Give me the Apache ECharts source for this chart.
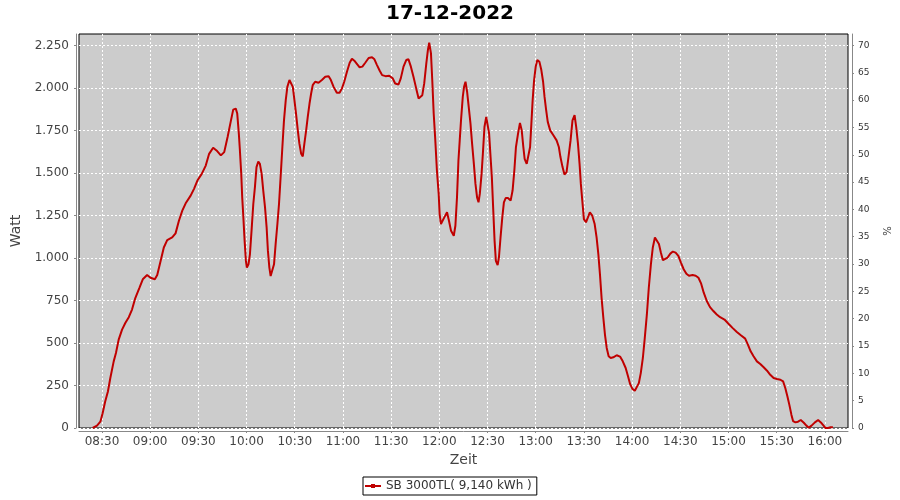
<!DOCTYPE html>
<html>
<head>
<meta charset="utf-8">
<script src="https://cdn.jsdelivr.net/npm/echarts@6/dist/echarts.min.js"></script>
<style>
html,body{margin:0;padding:0;background:#fff;}
#chart{width:900px;height:500px;}
</style>
</head>
<body>
<div id="chart"></div>
<script>
// Chart title and texts
const chartTitle = '17-12-2022';
const seriesName = 'SB 3000TL( 9,140 kWh )';

// time of each sample in minutes since midnight
const timeMin = [
504.2,506.9,509.0,510.4,512.0,513.7,515.2,517.3,518.7,520.4,522.5,524.6,526.7,528.7,530.8,533.3,535.4,538.1,540.2,542.9,
544.4,546.5,548.5,550.6,553.7,555.8,557.9,560.0,562.1,565.2,567.3,569.4,572.1,574.6,576.7,579.2,581.3,584.0,586.1,588.2,
590.3,591.7,593.3,594.2,595.2,595.8,596.7,597.3,597.9,598.8,599.6,600.2,601.2,602.1,603.1,604.2,605.2,606.2,607.3,608.3,
609.4,610.4,611.5,612.5,613.3,614.2,615.0,616.0,617.1,618.1,619.2,620.2,621.2,622.3,623.3,624.4,625.4,626.7,627.7,628.8,
629.8,630.8,631.9,632.9,634.0,635.0,636.0,637.1,638.1,639.2,640.2,641.2,642.7,644.8,646.9,649.0,651.1,652.5,654.2,656.2,
657.9,659.4,660.8,662.5,664.2,665.6,667.1,668.8,670.4,672.1,673.9,676.0,678.1,679.6,681.2,682.9,684.4,686.5,688.8,691.0,
692.5,694.6,696.0,697.7,699.4,700.8,702.3,703.9,705.6,707.1,708.1,709.4,710.6,711.9,712.9,713.7,714.8,715.6,716.5,717.5,
718.5,719.6,720.2,721.0,721.9,723.1,724.8,726.0,727.3,729.0,730.0,731.0,731.9,732.7,733.5,734.6,735.4,736.3,737.3,738.3,
739.4,740.4,741.5,742.5,743.5,744.4,745.2,746.3,747.1,748.1,749.2,750.2,751.0,751.9,752.7,753.5,754.4,755.2,756.3,757.1,
758.1,759.2,760.2,761.3,762.7,764.4,765.6,766.7,767.7,769.0,770.2,771.3,772.3,773.1,774.4,775.6,776.5,777.3,778.1,779.0,
780.0,781.0,782.3,783.5,784.6,785.5,786.5,787.5,789.0,791.0,793.0,794.4,795.4,796.7,797.9,799.2,800.4,801.7,802.9,804.2,
805.2,806.3,807.3,808.1,809.0,810.0,811.3,812.5,813.7,815.2,816.7,817.9,819.0,820.0,821.0,822.1,823.1,824.2,825.4,826.7,
828.3,830.4,832.5,834.2,836.0,837.5,838.8,840.2,841.7,842.9,844.2,845.4,846.7,847.9,849.2,850.4,851.7,852.9,854.2,855.4,
856.7,857.9,859.2,860.4,862.1,863.8,865.4,867.1,868.8,870.4,872.1,873.8,875.4,877.7,879.6,881.3,883.0,884.6,886.5,888.5,
890.6,892.7,894.8,897.5,900.0,902.5,905.2,907.9,910.4,912.1,913.8,915.6,917.7,919.8,921.9,924.0,926.0,928.1,930.2,932.3,
934.0,935.4,936.7,937.9,939.2,940.2,941.7,943.3,945.0,946.9,948.5,950.0,951.7,953.8,955.8,957.5,959.2,960.4,962.0,963.5,
965.0
];

// power output in Watt
const watt = [
0,14,37,87,156,215,294,392,441,520,579,619,652,697,766,825,875,900,884,875,
900,983,1062,1105,1121,1145,1219,1279,1322,1367,1407,1456,1495,1544,1613,1649,1633,1604,1623,1712,
1810,1873,1879,1850,1732,1643,1495,1357,1259,1101,983,944,963,1022,1160,1318,1416,1535,1568,1554,
1495,1397,1298,1180,1042,944,894,894,963,1082,1200,1318,1475,1653,1810,1929,2007,2047,2047,2007,
1929,1850,1751,1673,1613,1598,1673,1751,1830,1909,1968,2017,2037,2031,2047,2066,2070,2047,2007,1972,
1972,1998,2037,2096,2149,2173,2161,2141,2122,2126,2149,2177,2181,2169,2135,2102,2076,2070,2072,2057,
2027,2021,2057,2126,2165,2169,2126,2066,1998,1939,1929,1958,2027,2145,2224,2267,2204,2047,1850,1692,
1515,1377,1259,1200,1196,1239,1269,1219,1160,1131,1190,1357,1574,1692,1810,1948,2007,2037,1978,1889,
1791,1673,1554,1436,1357,1328,1377,1495,1613,1771,1830,1840,1732,1594,1475,1298,1101,983,959,1003,
1121,1239,1328,1353,1353,1338,1397,1515,1653,1732,1795,1751,1653,1584,1554,1564,1653,1791,1929,2047,
2126,2165,2155,2106,2037,1948,1870,1801,1751,1722,1692,1653,1594,1535,1491,1505,1594,1692,1810,1840,
1771,1673,1554,1436,1338,1229,1210,1239,1269,1249,1200,1121,1022,904,766,648,550,471,422,412,
416,428,420,392,353,303,258,230,219,229,264,323,412,530,668,825,963,1062,1121,1131,
1082,1032,987,983,1003,1026,1038,1032,1013,973,934,908,896,900,896,884,849,796,747,711,
688,668,652,638,613,589,565,544,526,491,451,422,392,376,357,337,313,294,288,284,
274,234,185,136,77,41,33,37,47,31,14,2,14,33,47,33,14,0,0,4,
4
];

// tick positions (minutes since midnight) and axis ticks
const timeTicks = [510,540,570,600,630,660,690,720,750,780,810,840,870,900,930,960];
const wattTicks = [0,250,500,750,1000,1250,1500,1750,2000,2250];
const percentTicks = [0,5,10,15,20,25,30,35,40,45,50,55,60,65,70];

const FONT = 'DejaVu Sans';
const pad = n => (n < 10 ? '0' : '') + n;
const fmtTime = v => pad(Math.floor(v / 60)) + ':' + pad(Math.round(v % 60));
const fmtNum = v => String(Math.round(v)).replace(/\B(?=(\d{3})+(?!\d))/g, '.');

const seriesData = timeMin.map((t, i) => [t, watt[i]]);

const chart = echarts.init(document.getElementById('chart'), null, {renderer: 'canvas'});
chart.setOption({
  animation: false,
  backgroundColor: '#ffffff',
  title: {
    text: chartTitle,
    left: 'center',
    top: 4,
    padding: 0,
    textStyle: {fontFamily: FONT, fontSize: 20, fontWeight: 'bold', color: '#000'}
  },
  legend: {
    left: 363,
    top: 477,
    padding: [3, 5, 3, 1],
    borderColor: '#000',
    borderWidth: 1,
    borderRadius: 0,
    itemWidth: 16,
    itemHeight: 5,
    itemGap: 0,
    textStyle: {fontFamily: FONT, fontSize: 12, color: '#333'},
    data: [seriesName]
  },
  grid: {
    left: 79, right: 52, top: 34, bottom: 72,
    show: true,
    backgroundColor: '#cccccc',
    borderColor: '#000',
    borderWidth: 1
  },
  xAxis: {
    type: 'value',
    min: 495.7,
    max: 974.4,
    offset: 3,
    name: 'Zeit',
    nameLocation: 'middle',
    nameGap: 22,
    nameTextStyle: {fontFamily: FONT, fontSize: 14, color: '#444'},
    axisLine: {show: true, onZero: false, lineStyle: {color: '#888', width: 1}},
    axisTick: {show: true, length: 2, customValues: timeTicks, lineStyle: {color: '#888'}},
    axisLabel: {customValues: timeTicks, formatter: fmtTime, fontFamily: FONT, fontSize: 12, color: '#444', margin: 5},
    splitLine: {show: true, lineStyle: {color: '#ffffff', width: 1, type: [2, 2]}}
  },
  yAxis: [
    {
      type: 'value',
      position: 'left',
      min: 0,
      max: 2318,
      offset: 3,
      name: 'Watt',
      nameLocation: 'middle',
      nameGap: 50,
      nameTextStyle: {fontFamily: FONT, fontSize: 14, color: '#444'},
      axisLine: {show: true, lineStyle: {color: '#888', width: 1}},
      axisTick: {show: true, length: 2, customValues: wattTicks, lineStyle: {color: '#888'}},
      axisLabel: {customValues: wattTicks, formatter: fmtNum, fontFamily: FONT, fontSize: 12, color: '#444', margin: 7},
      splitLine: {show: true, lineStyle: {color: '#ffffff', width: 1, type: [2, 2]}}
    },
    {
      type: 'value',
      position: 'right',
      min: 0,
      max: 72.1,
      offset: 4,
      name: '%',
      nameLocation: 'middle',
      nameGap: 26,
      nameRotate: -90,
      nameTextStyle: {fontFamily: FONT, fontSize: 10, color: '#333'},
      axisLine: {show: true, lineStyle: {color: '#888', width: 1}},
      axisTick: {show: true, length: 2, customValues: percentTicks, lineStyle: {color: '#888'}},
      axisLabel: {customValues: percentTicks, fontFamily: FONT, fontSize: 9, color: '#333', margin: 6},
      splitLine: {show: false}
    }
  ],
  series: [
    {
      name: seriesName,
      type: 'line',
      yAxisIndex: 0,
      data: seriesData,
      symbol: 'rect',
      symbolSize: 3,
      showSymbol: false,
      lineStyle: {color: '#c00000', width: 2},
      itemStyle: {color: '#c00000'},
      smooth: false
    }
  ]
});
</script>
</body>
</html>
